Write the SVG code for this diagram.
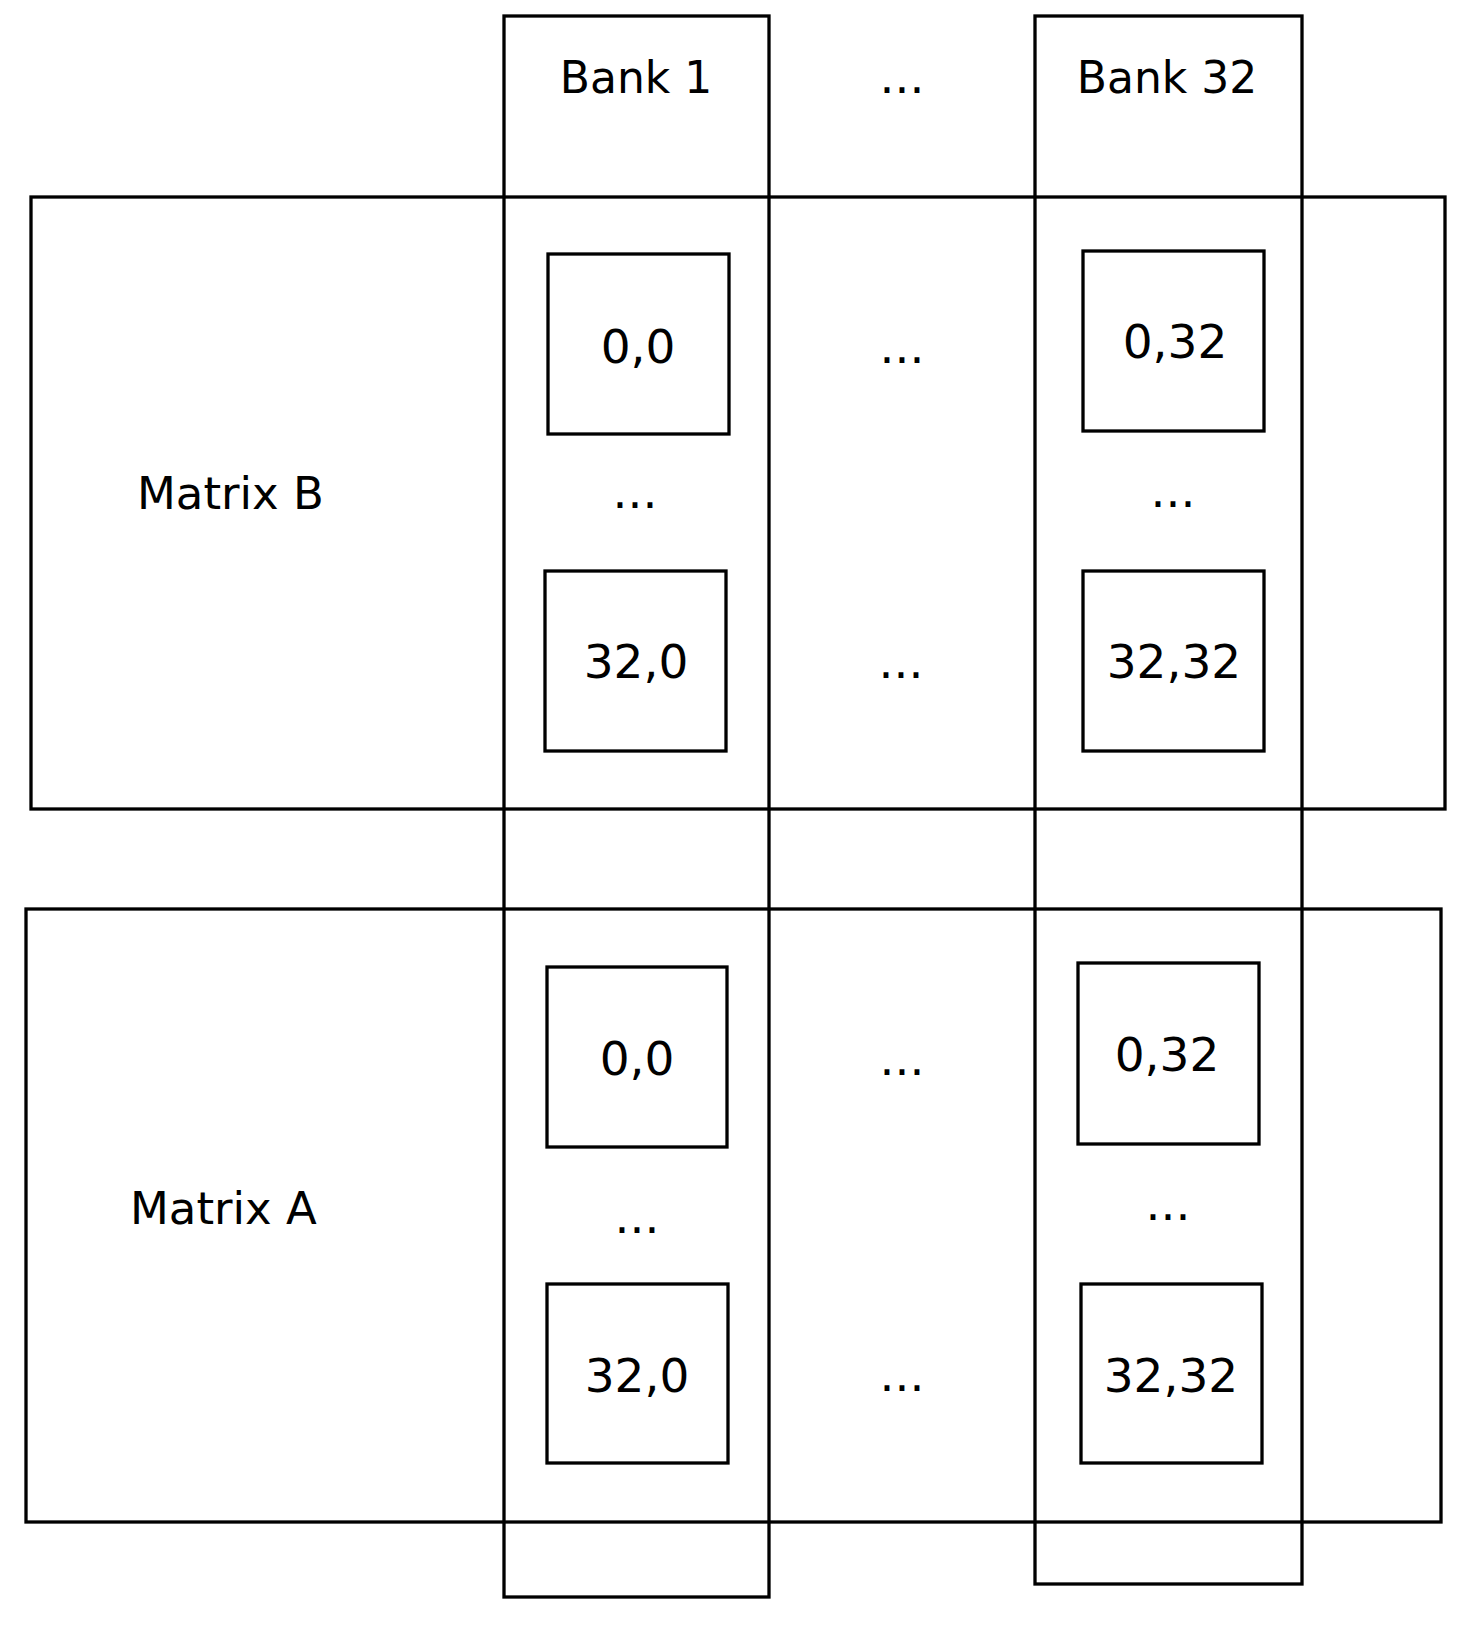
<svg xmlns="http://www.w3.org/2000/svg" width="1478" height="1628" viewBox="0 0 1478 1628">
<style>
rect{fill:none;stroke:#000;stroke-width:3.3}
text{font-family:"DejaVu Sans",Verdana,sans-serif;fill:#000}
.t{font-size:45px}
.c{font-size:47px;text-anchor:middle}
.h{font-size:44px;text-anchor:middle}
</style>
<rect width="1478" height="1628" fill="#fff" style="fill:#fff;stroke:none"/>
<g id="matrix-b"><rect x="31" y="197" width="1414" height="612"/><text class="t" x="137" y="509">Matrix B</text></g>
<g id="matrix-a"><rect x="26" y="909" width="1415" height="613"/><text class="t" x="130" y="1224">Matrix A</text></g>
<g id="bank-1"><rect x="504" y="16" width="265" height="1581"/><text class="h" x="636" y="93">Bank 1</text></g>
<g id="bank-32"><rect x="1035" y="16" width="267" height="1568"/><text class="h" x="1167" y="93">Bank 32</text></g>
<g id="top-dots"><text class="c" x="902" y="93">...</text></g>
<g id="b-0-0"><rect x="548" y="254" width="181" height="180"/><text class="c" x="638" y="363">0,0</text></g>
<g id="b-0-32"><rect x="1083" y="251" width="181" height="180"/><text class="c" x="1175" y="358">0,32</text></g>
<g id="b-32-0"><rect x="545" y="571" width="181" height="180"/><text class="c" x="636" y="678">32,0</text></g>
<g id="b-32-32"><rect x="1083" y="571" width="181" height="180"/><text class="c" x="1174" y="678">32,32</text></g>
<g id="b-dots">
<text class="c" x="902" y="363">...</text>
<text class="c" x="901" y="678">...</text>
<text class="c" x="635" y="508">...</text>
<text class="c" x="1173" y="507">...</text>
</g>
<g id="a-0-0"><rect x="547" y="967" width="180" height="180"/><text class="c" x="637" y="1075">0,0</text></g>
<g id="a-0-32"><rect x="1078" y="963" width="181" height="181"/><text class="c" x="1167" y="1071">0,32</text></g>
<g id="a-32-0"><rect x="547" y="1284" width="181" height="179"/><text class="c" x="637" y="1392">32,0</text></g>
<g id="a-32-32"><rect x="1081" y="1284" width="181" height="179"/><text class="c" x="1171" y="1392">32,32</text></g>
<g id="a-dots">
<text class="c" x="902" y="1075">...</text>
<text class="c" x="902" y="1391">...</text>
<text class="c" x="637" y="1233">...</text>
<text class="c" x="1168" y="1220">...</text>
</g>
<g id="connectors"></g>
</svg>
